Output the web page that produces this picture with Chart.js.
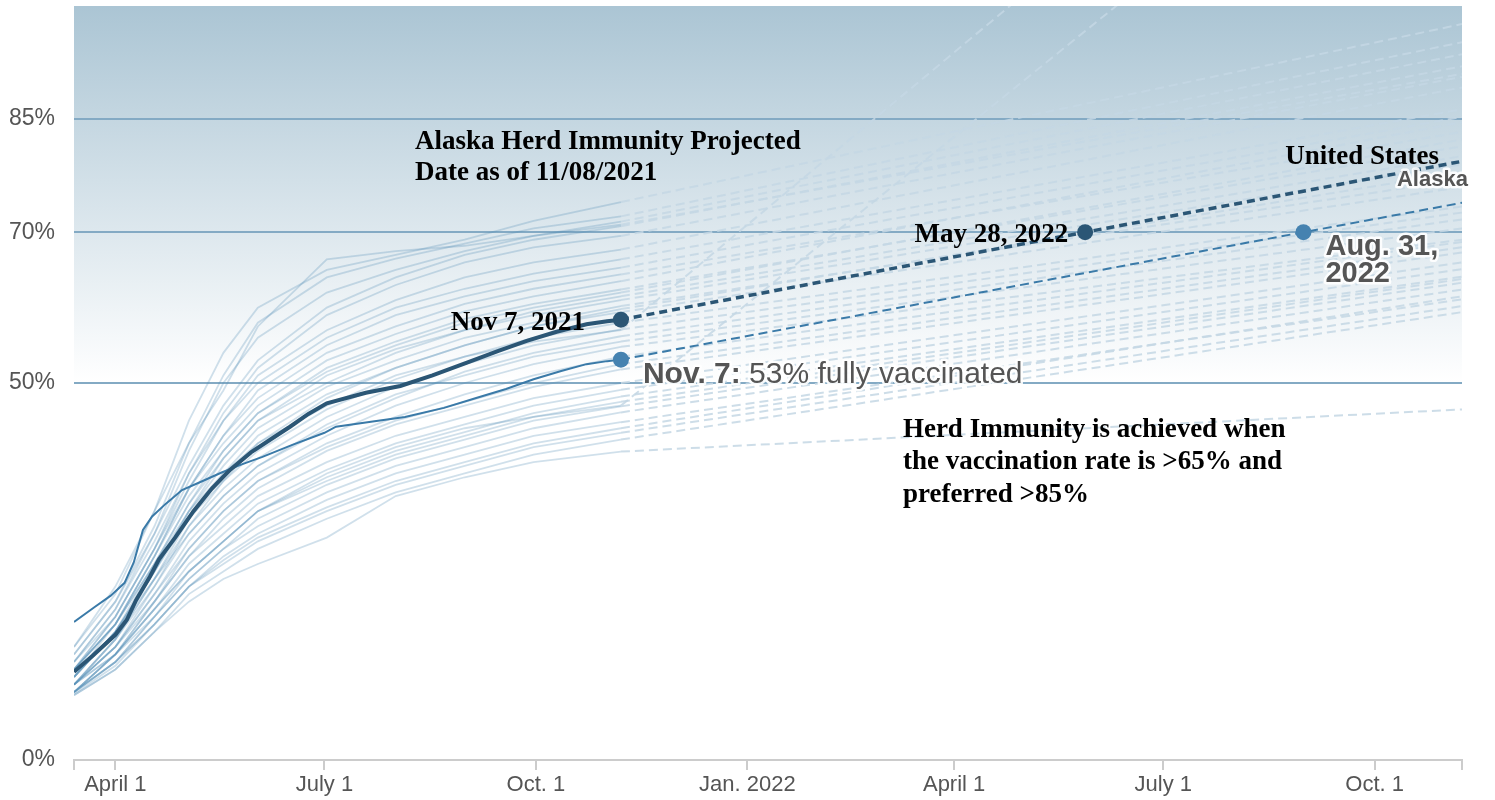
<!DOCTYPE html>
<html>
<head>
<meta charset="utf-8">
<script src="https://cdn.jsdelivr.net/npm/chart.js@4/dist/chart.umd.min.js"></script>
<style>
html, body { margin: 0; padding: 0; background: #fff; }
</style>
</head>
<body>
<canvas id="chart" width="1495" height="800"></canvas>
<script>
// x values are days since March 14, 2021; y values are % fully vaccinated
const sampleDays = [0, 18, 35, 50, 65, 80, 110, 140, 170, 200, 238];
const projectionStart = 238; // Nov 7, 2021
const projectionEnd = 604;   // Nov 8, 2022

// other states, history at sampleDays
const stateHistory = [
    [15, 22, 33, 45, 54, 60, 65, 67, 69, 71.5, 74],
    [14, 21, 31, 42, 51, 58, 64, 66.5, 68.5, 70.5, 72.1],
    [13, 20, 30, 41, 50, 56, 62, 65, 67.5, 69.5, 71.4],
    [15, 23, 33, 42, 49, 57.5, 66.4, 67.5, 68.2, 69.5, 71],
    [14, 21, 30, 39, 47, 53, 60, 64, 67, 69, 70.8],
    [13, 19, 28, 38, 46, 52, 59, 63, 66, 68, 69.5],
    [12, 19, 28, 37, 45, 51, 57, 61, 64, 66, 67.7],
    [13, 20, 29, 38, 45, 50, 56, 60, 62.5, 64.5, 66.4],
    [12, 18, 27, 36, 43, 49, 55, 59, 61.5, 63.5, 65.3],
    [11, 18, 27, 36, 43, 48, 54, 57.5, 60.5, 62.5, 64.4],
    [12, 19, 28, 36, 42, 47, 53, 56.5, 59.5, 61.5, 63.5],
    [11, 17, 26, 34, 41, 46, 52, 55.5, 58.5, 60.5, 62.4],
    [12, 18, 27, 35, 41, 46, 51.5, 55, 58, 60, 62],
    [12, 18, 26, 34, 40, 45, 50, 54, 57, 59.5, 61.5],
    [11, 17, 25, 33, 40, 45, 51, 54.5, 57, 59, 61],
    [11, 17, 25, 33, 39, 44, 49.5, 53, 56, 58, 60.2],
    [10, 15, 23, 31, 37, 42, 48, 52, 55, 57.5, 59.8],
    [10, 16, 24, 32, 38, 43, 48.5, 52, 55, 57.5, 59.4],
    [11, 17, 25, 32, 37, 41, 46.5, 50.5, 53.5, 56, 58],
    [10, 16, 24, 31, 36, 40, 45.5, 49.5, 52.5, 55, 57.1],
    [11, 17, 24, 30, 35, 39, 44, 48, 51.5, 54, 56.2],
    [10, 16, 23, 30, 35, 39, 44.5, 48.5, 51, 53.5, 55.5],
    [10, 15, 22, 29, 34, 38, 43, 47, 50, 52.5, 54.8],
    [10, 15, 22, 28, 33, 37, 42, 45.5, 48.5, 51, 53.5],
    [9, 14, 21, 28, 33, 37, 41.5, 45, 47.5, 50, 52.5],
    [9, 14, 21, 27, 32, 36, 41, 44.5, 47, 49.5, 51.8],
    [10, 15, 21, 27, 31, 35, 39.5, 43, 45.5, 48, 50],
    [9, 14, 20, 26, 30, 34, 38.5, 42, 44.5, 47, 49.1],
    [9, 14, 20, 25, 29, 33, 37.5, 41, 43.5, 46, 48.2],
    [9, 13, 19, 25, 29, 33, 37, 40.5, 43, 45.5, 47.5],
    [9, 13, 19, 24, 28, 32, 36.5, 40, 42.5, 45, 46.9],
    [10, 14, 19, 24, 28, 31, 35.5, 39, 41.5, 44, 46.1],
    [9, 13, 18, 23, 27, 30, 34.5, 38, 40.5, 43, 44.8],
    [8.8, 12.5, 18, 23, 26.5, 29.5, 33.5, 37, 39.5, 42, 44],
    [9, 13, 18, 23, 26, 29, 33, 36.5, 39, 41.5, 43.4],
    [8.6, 12, 17, 22, 25, 28, 32, 35.5, 38, 40.5, 42.5],
    [8.6, 12, 17, 21, 24, 26, 29.5, 35, 37.5, 39.5, 40.9],
    [12, 18, 26, 33, 38, 42, 47, 51, 53.5, 55.5, 57],
    [10, 14, 20, 25, 29, 33, 38, 41.5, 44, 45.5, 47]
];
// projected value at projectionEnd for each state above
const stateProjected = [97.6, 95.2, 93.6, 91, 92, 90.6, 89.2, 86.3, 85.3, 83.3, 84.6, 81.4, 82.3,
    80.1, 79, 77, 78, 76, 73.4, 72.6, 71.7, 70.5, 69, 68.7, 68, 67.3, 66, 65.1, 64.1, 63.8, 63.3,
    62.4, 61.1, 61.5, 60.2, 59.4, 46.5, 150, 137];

const alaskaDays = [0, 8, 18, 23, 27, 33, 37, 44, 52, 60, 68, 77, 86, 94, 102, 110, 127, 142, 156,
    171, 185, 197, 210, 223, 232, 238, 440, 604];
const alaskaValues = [11.7, 13.8, 16.6, 18.6, 21.2, 24.3, 26.6, 29.5, 33, 36, 38.5, 40.8, 42.6, 44.2,
    45.9, 47.3, 48.7, 49.6, 51, 52.7, 54.3, 55.6, 56.8, 57.8, 58.2, 58.4, 70, 79.4];
const usDays = [0, 9, 16, 22, 26, 30, 34, 40, 47, 56, 64, 73, 82, 95, 109, 114, 130, 144, 161, 175,
    188, 200, 212, 223, 232, 238, 535, 604];
const usValues = [18.3, 20.3, 21.8, 23.5, 26.2, 30.5, 32.3, 34, 35.8, 37, 38.1, 39.2, 40.2, 41.8,
    43.4, 44.2, 44.9, 45.5, 46.7, 48, 49.2, 50.5, 51.6, 52.5, 52.9, 53.1, 70, 73.9];

const alaskaMarks = [238, 440]; // Nov 7, 2021 and May 28, 2022
const usMarks = [238, 535];     // Nov 7, 2021 and Aug 31, 2022

const tickDays = [0, 18, 109, 201, 293, 383, 474, 566, 604];
const tickLabels = ["", "April 1", "July 1", "Oct. 1", "Jan. 2022", "April 1", "July 1", "Oct. 1", ""];
const yTicks = [0, 50, 70, 85];

const dashed = ctx => ctx.p0.parsed.x >= projectionStart;

const datasets = [];
datasets.push({
    data: alaskaDays.map((d, i) => ({x: d, y: alaskaValues[i]})),
    borderColor: "#2b5675",
    borderWidth: 4,
    pointRadius: ctx => alaskaMarks.includes(ctx.raw && ctx.raw.x) ? 8 : 0,
    pointBackgroundColor: "#2b5675",
    pointBorderWidth: 0,
    segment: {
        borderDash: ctx => dashed(ctx) ? [8, 5] : undefined,
        borderWidth: ctx => dashed(ctx) ? 3.5 : undefined
    }
});
datasets.push({
    data: usDays.map((d, i) => ({x: d, y: usValues[i]})),
    borderColor: "#3a7aa8",
    borderWidth: 2,
    pointRadius: ctx => usMarks.includes(ctx.raw && ctx.raw.x) ? 8 : 0,
    pointBackgroundColor: "#4582b0",
    pointBorderWidth: 0,
    segment: {
        borderDash: ctx => dashed(ctx) ? [9, 5] : undefined
    }
});
stateHistory.forEach((hist, s) => {
    const pts = sampleDays.map((d, i) => ({x: d, y: hist[i]}));
    pts.push({x: projectionEnd, y: stateProjected[s]});
    datasets.push({
        data: pts,
        borderColor: "rgba(80, 140, 180, 0.27)",
        borderWidth: 1.8,
        pointRadius: 0,
        segment: {
            borderDash: ctx => dashed(ctx) ? [9, 5] : undefined,
            borderColor: ctx => dashed(ctx) ? "rgba(196, 215, 228, 0.85)" : undefined,
            borderWidth: ctx => dashed(ctx) ? 2 : undefined
        }
    });
});

const SERIF = '"Liberation Serif", "Times New Roman", serif';
const SANS = '"Liberation Sans", Arial, Helvetica, sans-serif';

function drawText(ctx, text, x, y, font, color, align, halo) {
    ctx.font = font;
    ctx.textAlign = align || "left";
    ctx.textBaseline = "middle";
    if (halo) {
        ctx.lineWidth = 5;
        ctx.lineJoin = "round";
        ctx.strokeStyle = "rgba(255,255,255,0.9)";
        ctx.strokeText(text, x, y);
    }
    ctx.fillStyle = color;
    ctx.fillText(text, x, y);
    return ctx.measureText(text).width;
}

const decor = {
    id: "decor",
    beforeDraw(chart) {
        const {ctx, chartArea: a, scales: {y}} = chart;
        const y50 = y.getPixelForValue(50);
        const g = ctx.createLinearGradient(0, a.top, 0, y50);
        g.addColorStop(0, "#abc5d4");
        g.addColorStop(1, "#ffffff");
        ctx.save();
        ctx.fillStyle = g;
        ctx.fillRect(a.left, a.top, a.right - a.left, y50 - a.top);
        ctx.restore();
    },
    afterDraw(chart) {
        const {ctx, scales: {x, y}} = chart;
        const px = v => x.getPixelForValue(v);
        const py = v => y.getPixelForValue(v) + 3;
        const serif = "bold 27px " + SERIF;
        ctx.save();
        drawText(ctx, "Alaska Herd Immunity Projected", px(148.4), py(82.3), serif, "#000");
        drawText(ctx, "Date as of 11/08/2021", px(148.4), py(78.3), serif, "#000");

        drawText(ctx, "Nov 7, 2021", px(238) - 36, py(58.4), serif, "#000", "right");
        drawText(ctx, "May 28, 2022", px(440) - 17, py(70), serif, "#000", "right");
        drawText(ctx, "United States", px(594), py(80.4), serif, "#000", "right");

        drawText(ctx, "Herd Immunity is achieved when", px(360.7), py(44.2), serif, "#000");
        drawText(ctx, "the vaccination rate is >65% and", px(360.7), py(39.9), serif, "#000");
        drawText(ctx, "preferred >85%", px(360.7), py(35.6), serif, "#000");

        drawText(ctx, "Alaska", px(575.7), py(77.3), "bold 22px " + SANS, "#555", "left", true);
        drawText(ctx, "Aug. 31,", px(535) + 22, py(70) + 12, "bold 29px " + SANS, "#555", "left", true);
        drawText(ctx, "2022", px(535) + 22, py(70) + 39, "bold 29px " + SANS, "#555", "left", true);

        const nx = px(238) + 22, ny = py(53.1) + 12;
        const w = drawText(ctx, "Nov. 7:", nx, ny, "bold 30px " + SANS, "#555", "left", true);
        drawText(ctx, " 53% fully vaccinated", nx + w, ny, "30px " + SANS, "#555", "left", true);
        ctx.restore();
    }
};

new Chart(document.getElementById("chart"), {
    type: "line",
    data: {datasets},
    options: {
        responsive: false,
        animation: false,
        devicePixelRatio: 1,
        layout: {padding: {top: 6, right: 33, left: 0, bottom: 0}},
        elements: {line: {tension: 0}},
        plugins: {legend: {display: false}, tooltip: {enabled: false}},
        scales: {
            x: {
                type: "linear",
                min: 0,
                max: projectionEnd,
                afterBuildTicks: scale => { scale.ticks = tickDays.map(v => ({value: v})); },
                afterFit: scale => {
                    scale.height = 40;
                    scale.paddingLeft = 0;
                    scale.paddingRight = 0;
                },
                border: {color: "#cccccc", width: 2},
                grid: {drawOnChartArea: false, drawTicks: true, tickLength: 10, color: "#cccccc", lineWidth: 2},
                ticks: {
                    autoSkip: false,
                    maxRotation: 0,
                    padding: 2,
                    color: "#555",
                    font: {family: SANS, size: 22},
                    callback: (v, i) => tickLabels[i]
                }
            },
            y: {
                min: 0,
                max: 100,
                afterBuildTicks: scale => { scale.ticks = yTicks.map(v => ({value: v})); },
                afterFit: scale => {
                    scale.width = 74;
                    scale.paddingTop = 0;
                    scale.paddingBottom = 0;
                },
                border: {display: false},
                grid: {
                    drawTicks: false,
                    color: ctx => ctx.tick && ctx.tick.value === 0 ? "rgba(0,0,0,0)" : "#84aac4",
                    lineWidth: 2
                },
                ticks: {
                    padding: 19,
                    color: "#555",
                    font: {family: SANS, size: 23},
                    callback: v => v + "%"
                }
            }
        }
    },
    plugins: [decor]
});
</script>
</body>
</html>
